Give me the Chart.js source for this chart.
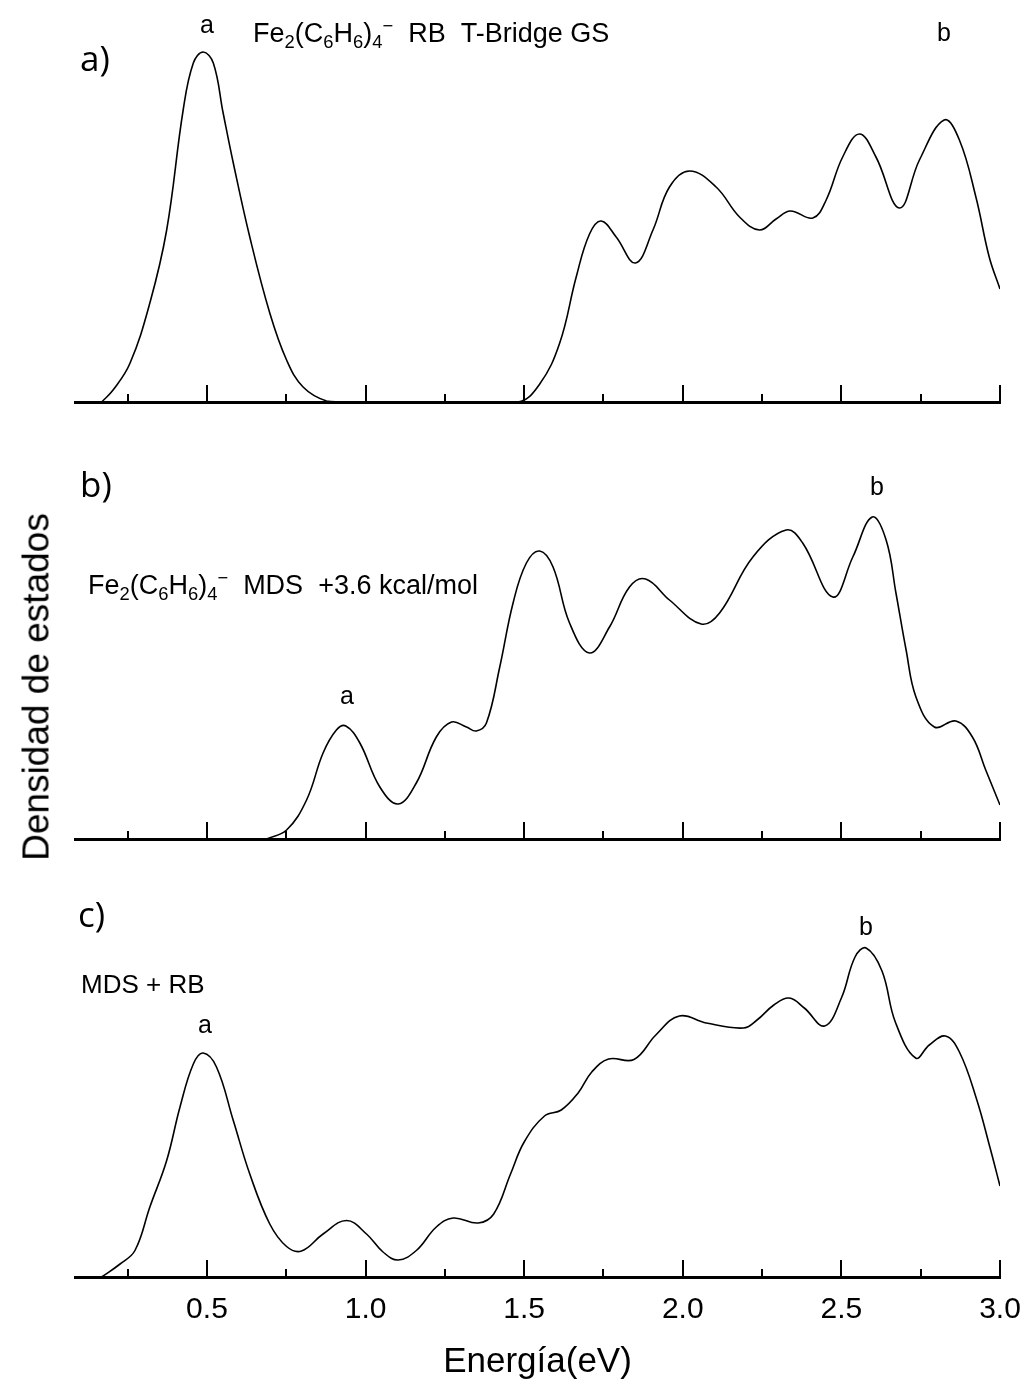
<!DOCTYPE html>
<html>
<head>
<meta charset="utf-8">
<script src="https://cdn.jsdelivr.net/npm/chart.js@4.4.0/dist/chart.umd.min.js"></script>
<style>
html,body{margin:0;padding:0;background:#fff;}
#page{position:relative;width:1029px;height:1389px;overflow:hidden;background:#fff;color:#000;font-family:"Liberation Sans",Arial,sans-serif;}
canvas{position:absolute;left:0;}
.t{position:absolute;white-space:nowrap;line-height:1;color:#000;}
.t sub,.t sup{font-size:68%;line-height:0;}
.t sub{vertical-align:-0.3em;}
.t sup{vertical-align:0.55em;}
</style>
</head>
<body>
<div id="page">
  <canvas id="cA" width="1029" height="420" style="top:0px;width:1029px;height:420px"></canvas>
  <canvas id="cB" width="1029" height="430" style="top:430px;width:1029px;height:430px"></canvas>
  <canvas id="cC" width="1029" height="529" style="top:860px;width:1029px;height:529px"></canvas>
</div>
<script>
// ---------- data (energy in eV, density of states in arbitrary units) ----------
const energyA = [0.168,0.204,0.257,0.32,0.373,0.425,0.457,0.488,0.52,0.551,0.583,0.635,0.698,0.751,0.803,0.877,0.95,1.2,1.48,
  1.549,1.612,1.664,1.706,1.743,1.79,1.851,1.906,1.958,2.021,2.105,2.179,2.242,2.294,2.339,2.41,2.452,2.504,2.557,2.609,2.683,2.746,2.824,2.872,2.924,2.966,3.0];
const dosA = [0,0.12,0.385,0.99,1.72,2.92,3.39,3.50,3.39,2.89,2.39,1.65,0.89,0.42,0.15,0.01,0,0,0,
  0.18,0.59,1.25,1.68,1.81,1.65,1.39,1.72,2.15,2.31,2.15,1.85,1.72,1.83,1.91,1.84,2.02,2.45,2.68,2.45,1.94,2.42,2.82,2.62,2.05,1.45,1.13];

const energyB = [0.688,0.751,0.814,0.866,0.908,0.938,0.982,1.045,1.103,1.16,1.223,1.271,1.318,1.349,1.381,1.423,1.465,1.507,1.549,1.591,1.643,1.706,1.769,1.832,
  1.883,1.958,2.058,2.116,2.221,2.326,2.378,2.473,2.536,2.597,2.641,2.672,2.704,2.735,2.793,2.861,2.913,2.955,3.0];
const dosB = [0,0.09,0.39,0.86,1.09,1.13,0.96,0.52,0.35,0.56,1.02,1.17,1.12,1.08,1.16,1.72,2.36,2.76,2.88,2.72,2.16,1.86,2.12,2.52,
  2.60,2.39,2.15,2.26,2.82,3.09,2.96,2.42,2.82,3.22,2.99,2.46,1.89,1.42,1.12,1.18,1.02,0.69,0.34];

const energyC = [0.168,0.226,0.273,0.32,0.373,0.415,0.457,0.488,0.53,0.583,0.635,0.698,0.751,0.798,0.866,0.94,1.003,1.055,1.103,1.16,1.223,1.276,1.355,1.404,1.457,1.5,
  1.564,1.617,1.67,1.713,1.766,1.846,1.915,1.989,2.074,2.191,2.234,2.287,2.335,2.383,2.447,2.5,2.543,2.578,2.628,2.67,2.734,2.777,2.828,2.872,2.926,2.968,3.0];
const dosC = [0,0.13,0.265,0.70,1.165,1.70,2.13,2.24,2.10,1.565,1.03,0.53,0.305,0.26,0.43,0.565,0.43,0.25,0.17,0.265,0.50,0.59,0.54,0.63,1.03,1.35,
  1.61,1.67,1.84,2.05,2.18,2.175,2.42,2.61,2.54,2.49,2.57,2.72,2.79,2.69,2.51,2.79,3.20,3.29,3.06,2.55,2.19,2.32,2.41,2.25,1.78,1.30,0.91];

const minorTicks = [0.25,0.75,1.25,1.75,2.25,2.75];
const majorTicks = [0.5,1.0,1.5,2.0,2.5,3.0];
const xTickLabels = ['0.5','1.0','1.5','2.0','2.5','3.0'];
const xTitle = 'Energía(eV)';
const yTitle = 'Densidad de estados';
const xMin = 0.084, xMax = 3.0, yMax = 3.6;

// ---------- drawing ----------
const FONT = '"Liberation Sans", Arial, Helvetica, sans-serif';

const innerTicks = {
  id: 'innerTicks',
  afterDatasetsDraw(chart) {
    const sx = chart.scales.x;
    const ctx = chart.ctx;
    const y0 = sx.top;
    ctx.save();
    ctx.strokeStyle = '#000';
    ctx.lineWidth = 2;
    ctx.lineCap = 'butt';
    const draw = (vals, len) => vals.forEach(v => {
      const px = Math.round(sx.getPixelForValue(v));
      ctx.beginPath();
      ctx.moveTo(px, y0);
      ctx.lineTo(px, y0 - len);
      ctx.stroke();
    });
    draw(minorTicks, 8);
    draw(majorTicks, 17);
    ctx.restore();
  }
};

function panel(id, energy, dos, pad, withLabels) {
  return new Chart(document.getElementById(id), {
    type: 'line',
    data: {
      datasets: [{
        data: energy.map((e, i) => ({x: e, y: dos[i]})),
        borderColor: '#000',
        borderWidth: 1.6,
        pointRadius: 0,
        fill: false,
        tension: 0.4
      }]
    },
    options: {
      responsive: false,
      animation: false,
      events: [],
      devicePixelRatio: 1,
      layout: {padding: {left: 75, right: 29, top: pad.top, bottom: pad.bottom}},
      plugins: {legend: {display: false}, tooltip: {enabled: false}},
      scales: {
        x: {
          type: 'linear', position: 'bottom', min: xMin, max: xMax,
          afterBuildTicks: s => { s.ticks = majorTicks.map(v => ({value: v})); },
          afterFit: s => { s.height = pad.axis; s.paddingLeft = 0; s.paddingRight = 0; },
          grid: {display: false, drawTicks: false},
          border: {display: true, color: '#000', width: 3},
          ticks: {
            display: withLabels, padding: 15, color: '#000', maxRotation: 0, autoSkip: false,
            font: {family: FONT, size: 30},
            callback: (v, i) => xTickLabels[i]
          },
          title: {
            display: withLabels, text: xTitle, color: '#000',
            font: {family: FONT, size: 35}, padding: {top: 0, bottom: 6}
          }
        },
        y: {display: false, min: 0, max: yMax}
      }
    },
    plugins: [innerTicks]
  });
}

panel('cA', energyA, dosA, {top: 42, bottom: 18, axis: 0}, false);
panel('cB', energyB, dosB, {top: 49, bottom: 21, axis: 0}, false);
panel('cC', energyC, dosC, {top: 57, bottom: 0, axis: 112}, true);

// ---------- annotations (real text) ----------
const FE = 'Fe<sub>2</sub>(C<sub>6</sub>H<sub>6</sub>)<sub>4</sub><sup>&minus;</sup>';
const LIB = {fam: FONT, k: 0.8465};
const OPS = {fam: '"Open Sans", "Liberation Sans", sans-serif', k: 0.888};
const notes = [
  {h: 'a', x: 207, b: 33, s: 25, f: LIB, c: true},
  {h: 'a)', x: 80, b: 71, s: 35, f: OPS},
  {h: FE + '&nbsp;&nbsp;RB&nbsp;&nbsp;T-Bridge GS', x: 253, b: 43, s: 27, f: LIB},
  {h: 'b', x: 944, b: 41, s: 25, f: LIB, c: true},
  {h: 'b)', x: 80, b: 497, s: 35, f: OPS},
  {h: 'b', x: 877, b: 495, s: 25, f: LIB, c: true},
  {h: FE + '&nbsp;&nbsp;MDS&nbsp;&nbsp;+3.6 kcal/mol', x: 88, b: 595, s: 27, f: LIB},
  {h: 'a', x: 347, b: 704, s: 25, f: LIB, c: true},
  {h: 'c)', x: 78, b: 927, s: 35, f: OPS},
  {h: 'MDS + RB', x: 81, b: 993, s: 26, f: LIB},
  {h: 'a', x: 205, b: 1033, s: 25, f: LIB, c: true},
  {h: 'b', x: 866, b: 935, s: 25, f: LIB, c: true}
];
const page = document.getElementById('page');
notes.forEach(n => {
  const d = document.createElement('div');
  d.className = 't';
  d.innerHTML = n.h;
  d.style.fontFamily = n.f.fam;
  d.style.fontSize = n.s + 'px';
  d.style.left = n.x + 'px';
  d.style.top = (n.b - n.f.k * n.s) + 'px';
  if (n.c) d.style.transform = 'translateX(-50%)';
  page.appendChild(d);
});
const yt = document.createElement('div');
yt.className = 't';
yt.textContent = yTitle;
yt.style.fontFamily = FONT;
yt.style.fontSize = '37px';
yt.style.left = '36px';
yt.style.top = '687px';
yt.style.transform = 'translate(-50%,-50%) rotate(-90deg)';
page.appendChild(yt);
</script>
</body>
</html>
